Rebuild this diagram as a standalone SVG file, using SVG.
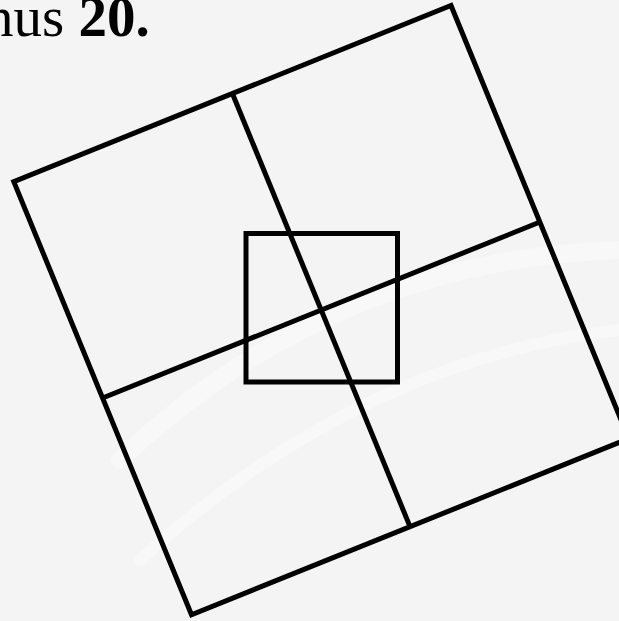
<svg xmlns="http://www.w3.org/2000/svg" width="619" height="621" viewBox="0 0 619 621">
  <style>
    .ln { fill: none; stroke: #000; stroke-width: 5; stroke-linejoin: miter; stroke-linecap: butt; }
    .txt { font-family: "Liberation Serif", "Times New Roman", serif; font-size: 57px; fill: #000; }
  </style>
  <rect x="0" y="0" width="619" height="621" fill="#f4f4f4"/>
  <g id="background-watermark" fill="none" stroke="#f8f8f8" stroke-linecap="round">
    <path d="M120 460 Q330 260 619 250" stroke-width="18"/>
    <path d="M140 560 Q360 360 619 330" stroke-width="12"/>
  </g>
  <text class="txt" x="-15" y="36">nus <tspan font-weight="bold">20.</tspan></text>
  <g id="outer-square">
    <polygon class="ln" points="451,5.5 628.7,438.6 191.5,614.7 13.8,181.6"/>
  </g>
  <g id="dividers">
    <line class="ln" x1="232.4" y1="93.5" x2="410" y2="526.6"/>
    <line class="ln" x1="102.6" y1="398" x2="540" y2="222"/>
  </g>
  <g id="inner-square">
    <rect class="ln" x="246" y="233.5" width="151.5" height="148.5" stroke-linejoin="round"/>
  </g>
</svg>
